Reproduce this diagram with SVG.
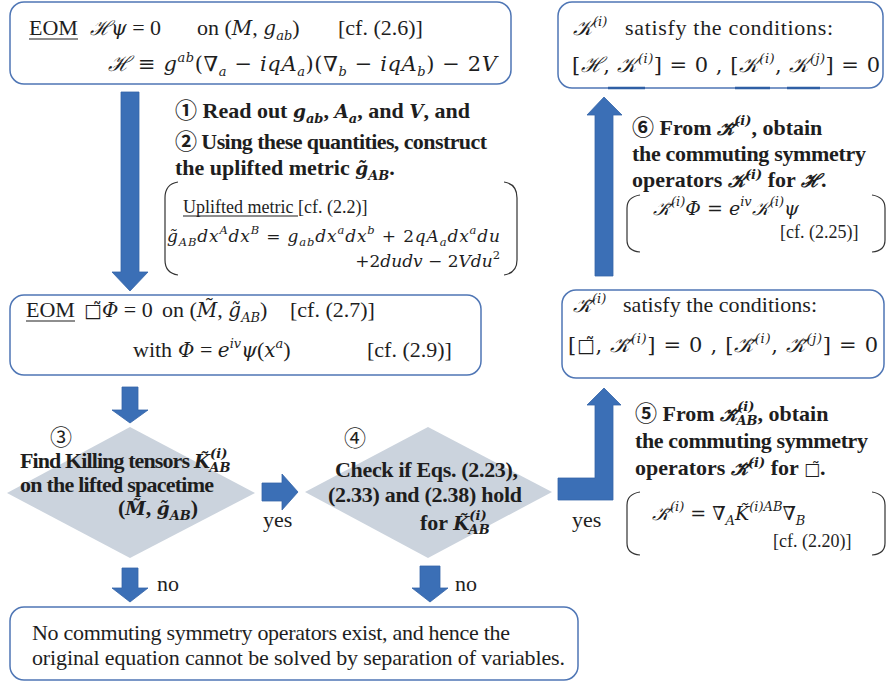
<svg xmlns="http://www.w3.org/2000/svg" width="887" height="686" viewBox="0 0 887 686">
<style>
text{font-family:"Liberation Serif","DejaVu Serif","Noto Sans CJK JP",serif;fill:#1e1e1e;font-size:22px}
.b{font-weight:bold}
.m{font-family:"DejaVu Serif","Liberation Serif",serif;font-style:italic;font-size:20px}
.m2{font-family:"DejaVu Serif","Liberation Serif",serif;font-style:italic;font-size:17px}
.mb{font-family:"DejaVu Serif","Liberation Serif",serif;font-style:italic;font-size:18.5px}
.u{font-style:normal}
.s{font-size:13px}
.s2{font-size:11.5px}
.sm{font-size:18px}
.bx{font-family:"DejaVu Sans",sans-serif;font-style:normal}
.box{fill:#fff;stroke:#4f76b5;stroke-width:1.5}
.dia{fill:#cbd3dd;stroke:none}
.arr{fill:#3b6fb6;stroke:#3565a8;stroke-width:0.8}
.brk{fill:none;stroke:#333;stroke-width:1.2}
.ul{stroke:#1e1e1e;stroke-width:1.2}
</style>

<g id="connectors">
<polygon class="arr" points="121,92 139,92 139,272 148,272 130,291 112,272 121,272"/>
<polygon class="arr" points="122,387 138,387 138,410 148,410 130,423 112,410 122,410"/>
<polygon class="arr" points="122,568 138,568 138,588 148,588 130,602 112,588 122,588"/>
<polygon class="arr" points="420,566 440,566 440,588 448,588 430,602 412,588 420,588"/>
<polygon class="arr" points="262,483 282,483 282,474 298,492 282,510 282,501 262,501"/>
<polygon class="arr" points="558,478 595,478 595,405 587,405 604,388 621,405 613,405 613,500 558,500"/>
<polygon class="arr" points="595,276 595,115 587,115 604,97 622,115 613,115 613,276"/>
<text x="263" y="527">yes</text>
<text x="572" y="527">yes</text>
<text x="157" y="591">no</text>
<text x="455" y="591">no</text>
</g>

<g id="eom-original">
<rect class="box" x="10" y="2" width="501" height="82" rx="14"/>
<text x="29" y="35">EOM</text>
<line class="ul" x1="29" y1="39" x2="78" y2="39"/>
<text x="90" y="35"><tspan class="m">ℋψ</tspan> = 0</text>
<text x="197" y="35">on (<tspan class="m">M</tspan>, <tspan class="m">g</tspan><tspan class="m s" dy="5">ab</tspan><tspan dy="-5">)</tspan></text>
<text x="338" y="35">[cf. (2.6)]</text>
<text x="108" y="71" class="m" style="font-size:21px" textLength="389" lengthAdjust="spacing">ℋ<tspan class="u"> ≡ </tspan>g<tspan class="s" dy="-9">ab</tspan><tspan class="u" dy="9">(</tspan>∇<tspan class="s" dy="5">a</tspan><tspan class="u" dy="-5"> − </tspan>iqA<tspan class="s" dy="5">a</tspan><tspan class="u" dy="-5">)(</tspan>∇<tspan class="s" dy="5">b</tspan><tspan class="u" dy="-5"> − </tspan>iqA<tspan class="s" dy="5">b</tspan><tspan class="u" dy="-5">) − 2</tspan>V</text>
</g>

<g id="step12">
<text class="b" x="175" y="118">① Read out <tspan class="mb">g</tspan><tspan class="m s" dy="5">ab</tspan><tspan dy="-5">, </tspan><tspan class="mb">A</tspan><tspan class="m s" dy="5">a</tspan><tspan dy="-5">, and </tspan><tspan class="mb">V</tspan>, and</text>
<text class="b" x="175" y="149" textLength="312" lengthAdjust="spacing">② Using these quantities, construct</text>
<text class="b" x="175" y="175">the uplifted metric <tspan class="mb">g̃</tspan><tspan class="m s" dy="5">AB</tspan><tspan dy="-5">.</tspan></text>
<path class="brk" d="M178 182 Q165 184 165 198 L165 260 Q165 273 178 275"/>
<path class="brk" d="M504 182 Q517 184 517 198 L517 260 Q517 273 504 275"/>
<text class="sm" x="183" y="213">Uplifted metric [cf. (2.2)]</text>
<line class="ul" x1="183" y1="216" x2="298" y2="216"/>
<text class="m2" x="167" y="242" textLength="333" lengthAdjust="spacing">g̃<tspan class="s2" dy="4">AB</tspan><tspan dy="-4">dx</tspan><tspan class="s2" dy="-8">A</tspan><tspan dy="8">dx</tspan><tspan class="s2" dy="-8">B</tspan><tspan dy="8" class="u"> = </tspan>g<tspan class="s2" dy="4">ab</tspan><tspan dy="-4">dx</tspan><tspan class="s2" dy="-8">a</tspan><tspan dy="8">dx</tspan><tspan class="s2" dy="-8">b</tspan><tspan dy="8" class="u"> + 2</tspan>qA<tspan class="s2" dy="4">a</tspan><tspan dy="-4">dx</tspan><tspan class="s2" dy="-8">a</tspan><tspan dy="8">du</tspan></text>
<text class="m2" x="500" y="267" text-anchor="end"><tspan class="u">+2</tspan>dudv<tspan class="u"> − 2</tspan>Vdu<tspan class="s2 u" dy="-8">2</tspan></text>
</g>

<g id="eom-lifted">
<rect class="box" x="10" y="295" width="471" height="80" rx="14"/>
<text x="26" y="317">EOM</text>
<line class="ul" x1="26" y1="321" x2="75" y2="321"/>
<text x="84" y="317"><tspan class="bx" font-size="19">□̃</tspan><tspan class="m">Φ</tspan> = 0</text>
<text x="162" y="317">on (<tspan class="m">M̃</tspan>, <tspan class="m">g̃</tspan><tspan class="m s" dy="5">AB</tspan><tspan dy="-5">)</tspan></text>
<text x="290" y="317">[cf. (2.7)]</text>
<text x="133" y="357">with</text>
<text x="178" y="357"><tspan class="m">Φ</tspan> = <tspan class="m">e</tspan><tspan class="m s" dy="-9">iv</tspan><tspan class="m" dy="9">ψ</tspan>(<tspan class="m">x</tspan><tspan class="m s" dy="-9">a</tspan><tspan dy="9">)</tspan></text>
<text x="367" y="357">[cf. (2.9)]</text>
</g>

<g id="step3">
<polygon class="dia" points="130,427 255,493 130,558 7,493"/>
<text x="50" y="445" font-size="16">③</text>
<text class="b" x="20" y="468" font-size="19.5" textLength="170" lengthAdjust="spacing">Find Killing tensors</text>
<text class="b" x="194" y="468" font-size="19.5"><tspan class="mb">K̃</tspan><tspan class="m s" dy="-10">(i)</tspan><tspan class="m s" dx="-18" dy="14">AB</tspan></text>
<text class="b" x="20" y="492" font-size="19.5" textLength="194" lengthAdjust="spacing">on the lifted spacetime</text>
<text class="b" x="118" y="515" font-size="19.5">(<tspan class="mb">M̃</tspan>, <tspan class="mb">g̃</tspan><tspan class="m s" dy="5">AB</tspan><tspan dy="-5">)</tspan></text>
</g>

<g id="step4">
<polygon class="dia" points="428,427 552,492 428,558 305,492"/>
<text x="344" y="446" font-size="16">④</text>
<text class="b" x="335" y="477" font-size="19.5" textLength="183" lengthAdjust="spacing">Check if Eqs. (2.23),</text>
<text class="b" x="328" y="502" font-size="19.5" textLength="194" lengthAdjust="spacing">(2.33) and (2.38) hold</text>
<text class="b" x="420" y="530" font-size="19.5">for <tspan class="mb">K̃</tspan><tspan class="m s" dy="-10">(i)</tspan><tspan class="m s" dx="-18" dy="14">AB</tspan></text>
</g>

<g id="result-none">
<rect class="box" x="10" y="607" width="568" height="73" rx="14"/>
<text x="32" y="640" font-size="20.5" textLength="478" lengthAdjust="spacing">No commuting symmetry operators exist, and hence the</text>
<text x="32" y="665" font-size="20.5" textLength="533" lengthAdjust="spacing">original equation cannot be solved by separation of variables.</text>
</g>

<g id="conditions-lifted">
<rect class="box" x="562" y="290" width="322" height="88" rx="14"/>
<text x="573" y="312" class="m">𝒦̃<tspan class="s" dy="-9">(i)</tspan></text>
<text x="623" y="312" textLength="194" lengthAdjust="spacing">satisfy the conditions:</text>
<text x="568" y="352" class="m" style="font-size:21px" textLength="310" lengthAdjust="spacing"><tspan class="u">[</tspan><tspan class="bx" font-size="19">□̃</tspan><tspan class="u">, </tspan>𝒦̃<tspan class="s" dy="-9">(i)</tspan><tspan class="u" dy="9">] = 0 ,  [</tspan>𝒦̃<tspan class="s" dy="-9">(i)</tspan><tspan class="u" dy="9">, </tspan>𝒦̃<tspan class="s" dy="-9">(j)</tspan><tspan class="u" dy="9">] = 0</tspan></text>
</g>

<g id="step5">
<text class="b" x="635" y="421" font-size="20">⑤ From <tspan class="mb">𝒦̃</tspan><tspan class="m s" dy="-10">(i)</tspan><tspan class="m s" dx="-18" dy="14">AB</tspan><tspan dy="-4">, obtain</tspan></text>
<text class="b" x="635" y="448" font-size="20" textLength="233" lengthAdjust="spacing">the commuting symmetry</text>
<text class="b" x="635" y="475" font-size="20">operators <tspan class="mb">𝒦̃</tspan><tspan class="m s" dy="-8">(i)</tspan><tspan dy="8"> for </tspan><tspan class="bx" font-size="17" font-weight="normal">□̃</tspan>.</text>
<path class="brk" d="M640 492 Q627 494 627 505 L627 543 Q627 554 640 555"/>
<path class="brk" d="M872 492 Q885 494 885 505 L885 543 Q885 554 872 555"/>
<text x="652" y="520" class="m" style="font-size:19px">𝒦̃<tspan class="s" dy="-9">(i)</tspan><tspan dy="9" class="u"> = </tspan>∇̃<tspan class="s" dy="5">A</tspan><tspan dy="-5">K̃</tspan><tspan class="s" dy="-9">(i)AB</tspan><tspan dy="9">∇̃</tspan><tspan class="s" dy="5">B</tspan></text>
<text class="sm" x="773" y="547">[cf. (2.20)]</text>
</g>

<g id="step6">
<text class="b" x="632" y="135" font-size="20">⑥ From <tspan class="mb">𝒦̃</tspan><tspan class="m s" dy="-10">(i)</tspan><tspan dy="10">, obtain</tspan></text>
<text class="b" x="632" y="161" font-size="20" textLength="234" lengthAdjust="spacing">the commuting symmetry</text>
<text class="b" x="632" y="187" font-size="20">operators <tspan class="mb">𝒦</tspan><tspan class="m s" dy="-8">(i)</tspan><tspan dy="8"> for </tspan><tspan class="mb">ℋ</tspan>.</text>
<path class="brk" d="M640 195 Q627 197 627 208 L627 240 Q627 251 640 252"/>
<path class="brk" d="M872 195 Q885 197 885 208 L885 240 Q885 251 872 252"/>
<text x="653" y="215" class="m" style="font-size:19px">𝒦̃<tspan class="s" dy="-9">(i)</tspan><tspan dy="9">Φ</tspan><tspan class="u"> = </tspan>e<tspan class="s" dy="-9">iv</tspan><tspan dy="9">𝒦</tspan><tspan class="s" dy="-9">(i)</tspan><tspan dy="9">ψ</tspan></text>
<text class="sm" x="780" y="238">[cf. (2.25)]</text>
</g>

<g id="conditions-original">
<rect class="box" x="558" y="2" width="325" height="86" rx="14"/>
<line x1="608" y1="88" x2="645" y2="88" stroke="#2f5fa5" stroke-width="2.5"/>
<line x1="735" y1="88" x2="770" y2="88" stroke="#2f5fa5" stroke-width="2.5"/>
<line x1="787" y1="88" x2="820" y2="88" stroke="#2f5fa5" stroke-width="2.5"/>
<text x="573" y="35" class="m" style="font-size:21px">𝒦<tspan class="s" dy="-9">(i)</tspan></text>
<text x="625" y="35" font-size="23" textLength="208" lengthAdjust="spacing">satisfy the conditions:</text>
<text x="572" y="72" class="m" style="font-size:21px" textLength="308" lengthAdjust="spacing"><tspan class="u">[</tspan>ℋ<tspan class="u">, </tspan>𝒦<tspan class="s" dy="-9">(i)</tspan><tspan class="u" dy="9">] = 0 ,  [</tspan>𝒦<tspan class="s" dy="-9">(i)</tspan><tspan class="u" dy="9">, </tspan>𝒦<tspan class="s" dy="-9">(j)</tspan><tspan class="u" dy="9">] = 0</tspan></text>
</g>
</svg>
